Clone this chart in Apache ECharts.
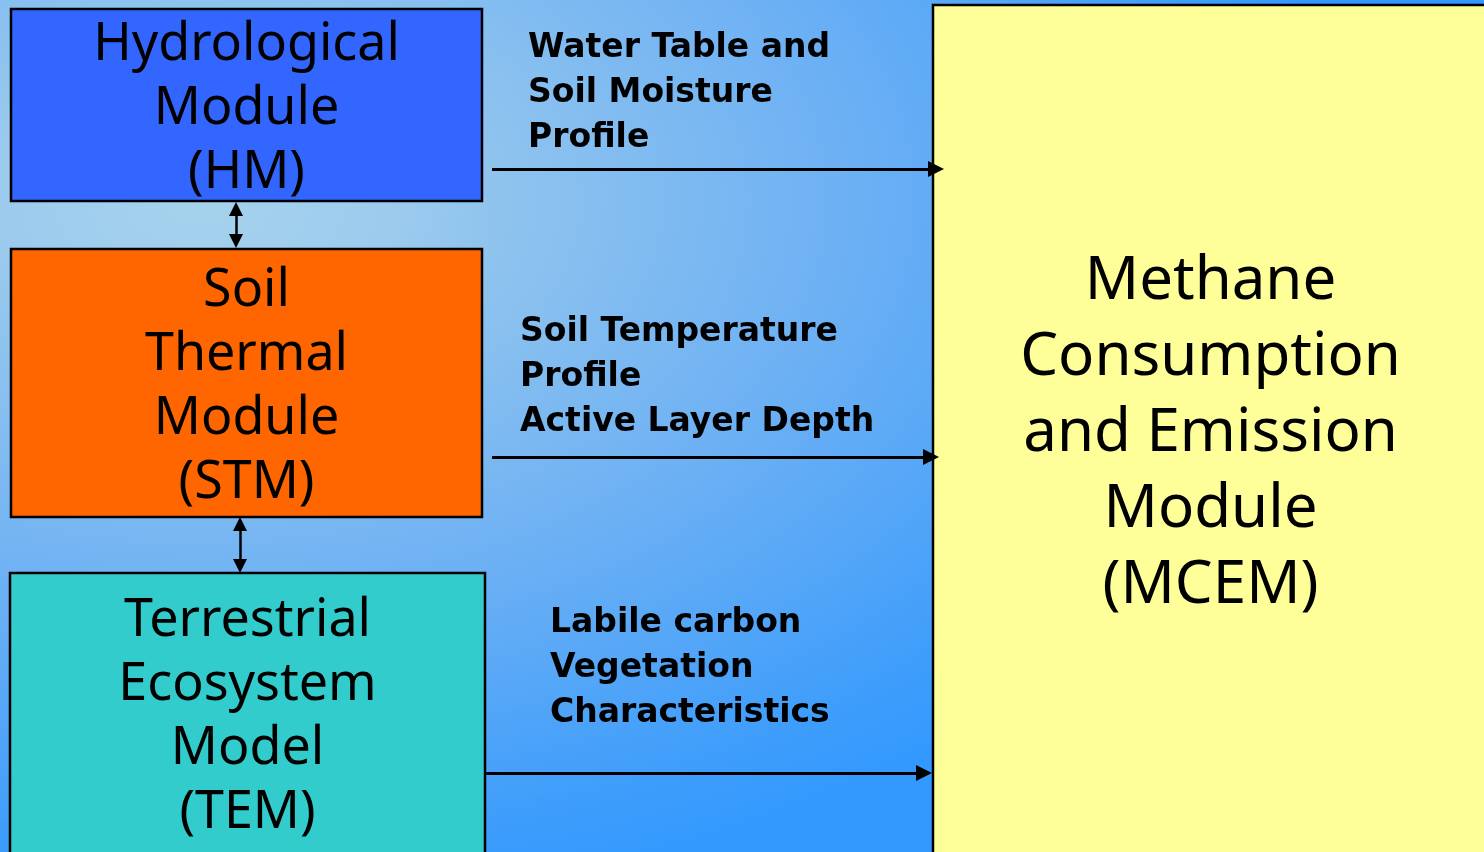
<!DOCTYPE html>
<html>
<head>
<meta charset="utf-8">
<script src="https://cdn.jsdelivr.net/npm/echarts@6/dist/echarts.min.js"></script>
<style>
html, body { margin: 0; padding: 0; }
#main { width: 1484px; height: 852px; }
</style>
</head>
<body>
<div id="main"></div>
<script>
// module boxes
var moduleNames = [
    'Hydrological\nModule\n(HM)',
    'Soil\nThermal\nModule\n(STM)',
    'Terrestrial\nEcosystem\nModel\n(TEM)',
    'Methane\nConsumption\nand Emission\nModule\n(MCEM)'
];
var moduleBoxes = [[11, 9, 482, 201], [11, 249, 482, 517], [10, 573, 485, 854], [933, 5, 1490, 854]];
var moduleColors = ['#3366ff', '#ff6600', '#33cccc', '#ffff99'];

// what flows into MCEM
var fluxLabels = [
    'Water Table and\nSoil Moisture\nProfile',
    'Soil Temperature\nProfile\nActive Layer Depth',
    'Labile carbon\nVegetation\nCharacteristics'
];
var fluxLabelAt = [[528, 47], [520, 331], [550, 622]];
// end points are the centres of the arrow heads (tips sit 8px further on)
var fluxArrows = [[[492, 169], [936, 169]], [[492, 457], [931, 457]], [[485, 773], [924, 773]]];

// two-way coupling between modules
var couplingArrows = [[[236, 209], [236, 241]], [[240, 524], [240, 566]]];

var dom = document.getElementById('main');
var myChart = echarts.init(dom);

// background: elliptical radial fade, squashed vertically
var squash = 1.6;

var option = {
    animation: false,
    graphic: [{
        type: 'rect',
        z: -10,
        scaleY: 1 / squash,
        shape: { x: 0, y: 0, width: 1484, height: 852 * squash },
        style: {
            fill: {
                type: 'radial', x: 200, y: 200 * squash, r: 1150, global: true,
                colorStops: [
                    { offset: 0, color: '#a6d2ec' },
                    { offset: 0.17, color: '#9ccbee' },
                    { offset: 0.25, color: '#90c4ee' },
                    { offset: 0.57, color: '#6cb0f4' },
                    { offset: 0.9, color: '#3e9dfb' },
                    { offset: 1, color: '#3399ff' }
                ]
            }
        }
    }],
    grid: { left: 0, right: 0, top: 0, bottom: 0 },
    xAxis: { type: 'value', min: 0, max: 1484, show: false },
    yAxis: { type: 'value', min: 0, max: 852, inverse: true, show: false },
    series: [
        {
            type: 'custom',
            clip: false,
            z: 2,
            data: moduleBoxes.map(function (b, i) { return b.concat([i]); }),
            renderItem: function (params, api) {
                var i = params.dataIndex;
                var p0 = api.coord([api.value(0), api.value(1)]);
                var p1 = api.coord([api.value(2), api.value(3)]);
                var big = i === 3;
                return {
                    type: 'group',
                    children: [{
                        type: 'rect',
                        shape: { x: p0[0], y: p0[1], width: p1[0] - p0[0], height: p1[1] - p0[1] },
                        style: { fill: moduleColors[i], stroke: '#000', lineWidth: 2.5 }
                    }, {
                        type: 'text',
                        style: {
                            text: moduleNames[i],
                            x: (p0[0] + p1[0]) / 2 + (big ? -1 : 0),
                            y: (p0[1] + p1[1]) / 2 + 4,
                            align: 'center',
                            verticalAlign: 'middle',
                            fill: '#000',
                            font: (big ? '60px' : '52px') + ' "Noto Sans"',
                            lineHeight: big ? 76 : 64
                        }
                    }]
                };
            }
        },
        {
            type: 'custom',
            clip: false,
            z: 3,
            data: fluxLabelAt.map(function (p, i) { return p.concat([i]); }),
            renderItem: function (params, api) {
                var p = api.coord([api.value(0), api.value(1)]);
                return {
                    type: 'text',
                    style: {
                        text: fluxLabels[params.dataIndex],
                        x: p[0], y: p[1] - 21,
                        align: 'left',
                        verticalAlign: 'top',
                        fill: '#000',
                        font: 'bold 33px "DejaVu Sans"',
                        lineHeight: 45
                    }
                };
            }
        },
        {
            type: 'lines',
            coordinateSystem: 'cartesian2d',
            z: 4,
            symbol: ['none', 'triangle'],
            symbolSize: [14, 16],
            lineStyle: { color: '#000', width: 3, opacity: 1, curveness: 0 },
            data: fluxArrows.map(function (c) { return { coords: c }; })
        },
        {
            type: 'lines',
            coordinateSystem: 'cartesian2d',
            z: 4,
            symbol: ['triangle', 'triangle'],
            symbolSize: [14, 14],
            lineStyle: { color: '#000', width: 2.5, opacity: 1, curveness: 0 },
            data: couplingArrows.map(function (c) { return { coords: c }; })
        }
    ]
};

myChart.setOption(option, true);
window.addEventListener('resize', function () { myChart.resize(); });
</script>
</body>
</html>
